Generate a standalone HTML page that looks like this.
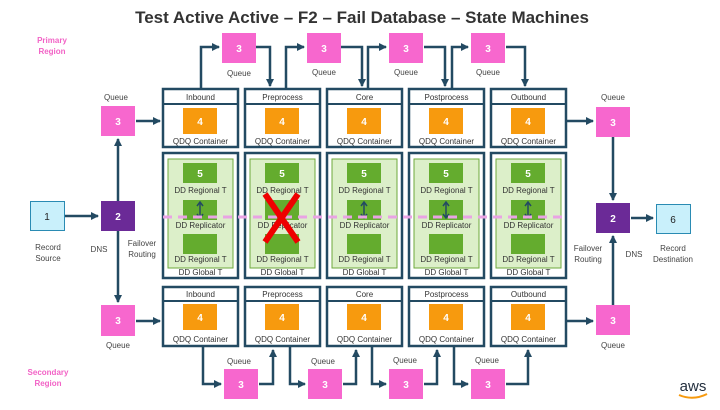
<!DOCTYPE html>
<html><head><meta charset="utf-8"><style>
body{margin:0;background:#fff}
svg text{font-family:"Liberation Sans",sans-serif}
</style></head><body>
<svg width="720" height="405" viewBox="0 0 720 405" xmlns="http://www.w3.org/2000/svg">
<defs>
<marker id="a" markerWidth="8" markerHeight="8" refX="7" refY="4" orient="auto" markerUnits="userSpaceOnUse"><path d="M0,0 L8,4 L0,8 z" fill="#234a62"/></marker>
</defs>
<rect width="720" height="405" fill="#fff"/>
<text x="362" y="23" text-anchor="middle" font-size="17" font-weight="bold" fill="#333">Test Active Active – F2 – Fail Database – State Machines</text>
<text x="52" y="43" text-anchor="middle" font-size="8" font-weight="bold" fill="#f263c6">Primary</text>
<text x="52" y="54" text-anchor="middle" font-size="8" font-weight="bold" fill="#f263c6">Region</text>
<text x="48" y="375" text-anchor="middle" font-size="8" font-weight="bold" fill="#f263c6">Secondary</text>
<text x="48" y="386" text-anchor="middle" font-size="8" font-weight="bold" fill="#f263c6">Region</text>

<g stroke="#234a62" stroke-width="2.5" fill="none">
<path d="M201,89 V47 H219" marker-end="url(#a)"/>
<path d="M256,47 H270 V86" marker-end="url(#a)"/>
<path d="M286,89 V47 H304" marker-end="url(#a)"/>
<path d="M341,47 H362 V86" marker-end="url(#a)"/>
<path d="M368,89 V47 H386" marker-end="url(#a)"/>
<path d="M424,47 H445 V86" marker-end="url(#a)"/>
<path d="M452,89 V47 H468" marker-end="url(#a)"/>
<path d="M506,47 H525 V86" marker-end="url(#a)"/>
<path d="M203,347 V384 H221" marker-end="url(#a)"/>
<path d="M259,384 H273 V350" marker-end="url(#a)"/>
<path d="M290,347 V384 H305" marker-end="url(#a)"/>
<path d="M343,384 H356 V350" marker-end="url(#a)"/>
<path d="M372,347 V384 H386" marker-end="url(#a)"/>
<path d="M424,384 H437 V350" marker-end="url(#a)"/>
<path d="M454,347 V384 H468" marker-end="url(#a)"/>
<path d="M506,384 H528 V350" marker-end="url(#a)"/>
<path d="M65,216 H98" marker-end="url(#a)"/>
<path d="M118,201 V139" marker-end="url(#a)"/>
<path d="M136,121 H160" marker-end="url(#a)"/>
<path d="M118,231 V302" marker-end="url(#a)"/>
<path d="M136,321 H160" marker-end="url(#a)"/>
<path d="M567,121 H593" marker-end="url(#a)"/>
<path d="M613,137 V200" marker-end="url(#a)"/>
<path d="M567,321 H593" marker-end="url(#a)"/>
<path d="M613,305 V236" marker-end="url(#a)"/>
<path d="M631,218 H653" marker-end="url(#a)"/>
</g>

<g font-size="8" text-anchor="middle">
<g transform="translate(163,0)">
<rect x="0" y="89" width="75" height="58" fill="#fff" stroke="#234a62" stroke-width="2.5"/><line x1="0" y1="104" x2="75" y2="104" stroke="#234a62" stroke-width="2"/>
<text x="37.5" y="100" fill="#333">Inbound</text><rect x="20" y="108" width="34" height="26" fill="#f79a0e"/><text x="37" y="125" fill="#fff" font-weight="bold" font-size="10">4</text><text x="37.5" y="144" fill="#333">QDQ Container</text>
<rect x="0" y="287" width="75" height="59" fill="#fff" stroke="#234a62" stroke-width="2.5"/><line x1="0" y1="301" x2="75" y2="301" stroke="#234a62" stroke-width="2"/>
<text x="37.5" y="297" fill="#333">Inbound</text><rect x="20" y="304" width="34" height="26" fill="#f79a0e"/><text x="37" y="321" fill="#fff" font-weight="bold" font-size="10">4</text><text x="37.5" y="342" fill="#333">QDQ Container</text>
</g>
<g transform="translate(245,0)">
<rect x="0" y="89" width="75" height="58" fill="#fff" stroke="#234a62" stroke-width="2.5"/><line x1="0" y1="104" x2="75" y2="104" stroke="#234a62" stroke-width="2"/>
<text x="37.5" y="100" fill="#333">Preprocess</text><rect x="20" y="108" width="34" height="26" fill="#f79a0e"/><text x="37" y="125" fill="#fff" font-weight="bold" font-size="10">4</text><text x="37.5" y="144" fill="#333">QDQ Container</text>
<rect x="0" y="287" width="75" height="59" fill="#fff" stroke="#234a62" stroke-width="2.5"/><line x1="0" y1="301" x2="75" y2="301" stroke="#234a62" stroke-width="2"/>
<text x="37.5" y="297" fill="#333">Preprocess</text><rect x="20" y="304" width="34" height="26" fill="#f79a0e"/><text x="37" y="321" fill="#fff" font-weight="bold" font-size="10">4</text><text x="37.5" y="342" fill="#333">QDQ Container</text>
</g>
<g transform="translate(327,0)">
<rect x="0" y="89" width="75" height="58" fill="#fff" stroke="#234a62" stroke-width="2.5"/><line x1="0" y1="104" x2="75" y2="104" stroke="#234a62" stroke-width="2"/>
<text x="37.5" y="100" fill="#333">Core</text><rect x="20" y="108" width="34" height="26" fill="#f79a0e"/><text x="37" y="125" fill="#fff" font-weight="bold" font-size="10">4</text><text x="37.5" y="144" fill="#333">QDQ Container</text>
<rect x="0" y="287" width="75" height="59" fill="#fff" stroke="#234a62" stroke-width="2.5"/><line x1="0" y1="301" x2="75" y2="301" stroke="#234a62" stroke-width="2"/>
<text x="37.5" y="297" fill="#333">Core</text><rect x="20" y="304" width="34" height="26" fill="#f79a0e"/><text x="37" y="321" fill="#fff" font-weight="bold" font-size="10">4</text><text x="37.5" y="342" fill="#333">QDQ Container</text>
</g>
<g transform="translate(409,0)">
<rect x="0" y="89" width="75" height="58" fill="#fff" stroke="#234a62" stroke-width="2.5"/><line x1="0" y1="104" x2="75" y2="104" stroke="#234a62" stroke-width="2"/>
<text x="37.5" y="100" fill="#333">Postprocess</text><rect x="20" y="108" width="34" height="26" fill="#f79a0e"/><text x="37" y="125" fill="#fff" font-weight="bold" font-size="10">4</text><text x="37.5" y="144" fill="#333">QDQ Container</text>
<rect x="0" y="287" width="75" height="59" fill="#fff" stroke="#234a62" stroke-width="2.5"/><line x1="0" y1="301" x2="75" y2="301" stroke="#234a62" stroke-width="2"/>
<text x="37.5" y="297" fill="#333">Postprocess</text><rect x="20" y="304" width="34" height="26" fill="#f79a0e"/><text x="37" y="321" fill="#fff" font-weight="bold" font-size="10">4</text><text x="37.5" y="342" fill="#333">QDQ Container</text>
</g>
<g transform="translate(491,0)">
<rect x="0" y="89" width="75" height="58" fill="#fff" stroke="#234a62" stroke-width="2.5"/><line x1="0" y1="104" x2="75" y2="104" stroke="#234a62" stroke-width="2"/>
<text x="37.5" y="100" fill="#333">Outbound</text><rect x="20" y="108" width="34" height="26" fill="#f79a0e"/><text x="37" y="125" fill="#fff" font-weight="bold" font-size="10">4</text><text x="37.5" y="144" fill="#333">QDQ Container</text>
<rect x="0" y="287" width="75" height="59" fill="#fff" stroke="#234a62" stroke-width="2.5"/><line x1="0" y1="301" x2="75" y2="301" stroke="#234a62" stroke-width="2"/>
<text x="37.5" y="297" fill="#333">Outbound</text><rect x="20" y="304" width="34" height="26" fill="#f79a0e"/><text x="37" y="321" fill="#fff" font-weight="bold" font-size="10">4</text><text x="37.5" y="342" fill="#333">QDQ Container</text>
</g>
</g>

<g font-size="8" text-anchor="middle" fill="#333">
<g transform="translate(163,153)">
<rect x="0" y="0" width="75" height="125" fill="#fff" stroke="#234a62" stroke-width="2.5"/><rect x="5" y="6" width="65" height="109" fill="#dcefc9" stroke="#6eaa3c"/>
<rect x="20" y="10" width="34" height="20" fill="#64ac2e"/><text x="37" y="24" fill="#fff" font-weight="bold" font-size="10">5</text><text x="37.5" y="40">DD Regional T</text>
<rect x="20" y="47" width="34" height="20" fill="#64ac2e"/><text x="37.5" y="75">DD Replicator</text>
<rect x="20" y="81" width="34" height="20" fill="#64ac2e"/><text x="37.5" y="109">DD Regional T</text><text x="37.5" y="122">DD Global T</text>
<path d="M37,50 V64 M34,53 L37,49 L40,53 M34,61 L37,65 L40,61" stroke="#234a62" stroke-width="1.5" fill="none"/>
</g>
<g transform="translate(245,153)">
<rect x="0" y="0" width="75" height="125" fill="#fff" stroke="#234a62" stroke-width="2.5"/><rect x="5" y="6" width="65" height="109" fill="#dcefc9" stroke="#6eaa3c"/>
<rect x="20" y="10" width="34" height="20" fill="#64ac2e"/><text x="37" y="24" fill="#fff" font-weight="bold" font-size="10">5</text><text x="37.5" y="40">DD Regional T</text>
<rect x="20" y="47" width="34" height="20" fill="#64ac2e"/><text x="37.5" y="75">DD Replicator</text>
<rect x="20" y="81" width="34" height="20" fill="#64ac2e"/><text x="37.5" y="109">DD Regional T</text><text x="37.5" y="122">DD Global T</text>
</g>
<g transform="translate(327,153)">
<rect x="0" y="0" width="75" height="125" fill="#fff" stroke="#234a62" stroke-width="2.5"/><rect x="5" y="6" width="65" height="109" fill="#dcefc9" stroke="#6eaa3c"/>
<rect x="20" y="10" width="34" height="20" fill="#64ac2e"/><text x="37" y="24" fill="#fff" font-weight="bold" font-size="10">5</text><text x="37.5" y="40">DD Regional T</text>
<rect x="20" y="47" width="34" height="20" fill="#64ac2e"/><text x="37.5" y="75">DD Replicator</text>
<rect x="20" y="81" width="34" height="20" fill="#64ac2e"/><text x="37.5" y="109">DD Regional T</text><text x="37.5" y="122">DD Global T</text>
<path d="M37,50 V64 M34,53 L37,49 L40,53 M34,61 L37,65 L40,61" stroke="#234a62" stroke-width="1.5" fill="none"/>
</g>
<g transform="translate(409,153)">
<rect x="0" y="0" width="75" height="125" fill="#fff" stroke="#234a62" stroke-width="2.5"/><rect x="5" y="6" width="65" height="109" fill="#dcefc9" stroke="#6eaa3c"/>
<rect x="20" y="10" width="34" height="20" fill="#64ac2e"/><text x="37" y="24" fill="#fff" font-weight="bold" font-size="10">5</text><text x="37.5" y="40">DD Regional T</text>
<rect x="20" y="47" width="34" height="20" fill="#64ac2e"/><text x="37.5" y="75">DD Replicator</text>
<rect x="20" y="81" width="34" height="20" fill="#64ac2e"/><text x="37.5" y="109">DD Regional T</text><text x="37.5" y="122">DD Global T</text>
<path d="M37,50 V64 M34,53 L37,49 L40,53 M34,61 L37,65 L40,61" stroke="#234a62" stroke-width="1.5" fill="none"/>
</g>
<g transform="translate(491,153)">
<rect x="0" y="0" width="75" height="125" fill="#fff" stroke="#234a62" stroke-width="2.5"/><rect x="5" y="6" width="65" height="109" fill="#dcefc9" stroke="#6eaa3c"/>
<rect x="20" y="10" width="34" height="20" fill="#64ac2e"/><text x="37" y="24" fill="#fff" font-weight="bold" font-size="10">5</text><text x="37.5" y="40">DD Regional T</text>
<rect x="20" y="47" width="34" height="20" fill="#64ac2e"/><text x="37.5" y="75">DD Replicator</text>
<rect x="20" y="81" width="34" height="20" fill="#64ac2e"/><text x="37.5" y="109">DD Regional T</text><text x="37.5" y="122">DD Global T</text>
<path d="M37,50 V64 M34,53 L37,49 L40,53 M34,61 L37,65 L40,61" stroke="#234a62" stroke-width="1.5" fill="none"/>
</g>
</g>
<line x1="163" y1="217" x2="566" y2="217" stroke="#e9a3e4" stroke-width="3" stroke-dasharray="9,6"/>
<path d="M265,194 L298,242 M298,194 L265,242" stroke="#ee0000" stroke-width="6"/>

<g font-size="10" font-weight="bold" fill="#fff" text-anchor="middle">
<rect x="222" y="33" width="34" height="30" fill="#f767ce"/><text x="239" y="52">3</text>
<rect x="307" y="33" width="34" height="30" fill="#f767ce"/><text x="324" y="52">3</text>
<rect x="389" y="33" width="34" height="30" fill="#f767ce"/><text x="406" y="52">3</text>
<rect x="471" y="33" width="34" height="30" fill="#f767ce"/><text x="488" y="52">3</text>
<rect x="224" y="369" width="34" height="30" fill="#f767ce"/><text x="241" y="388">3</text>
<rect x="308" y="369" width="34" height="30" fill="#f767ce"/><text x="325" y="388">3</text>
<rect x="389" y="369" width="34" height="30" fill="#f767ce"/><text x="406" y="388">3</text>
<rect x="471" y="369" width="34" height="30" fill="#f767ce"/><text x="488" y="388">3</text>
<rect x="101" y="106" width="34" height="30" fill="#f767ce"/><text x="118" y="125">3</text>
<rect x="101" y="305" width="34" height="31" fill="#f767ce"/><text x="118" y="324">3</text>
<rect x="596" y="107" width="34" height="30" fill="#f767ce"/><text x="613" y="126">3</text>
<rect x="596" y="305" width="34" height="30" fill="#f767ce"/><text x="613" y="324">3</text>
<rect x="101" y="201" width="34" height="30" fill="#6b2a97"/><text x="118" y="220">2</text>
<rect x="596" y="203" width="34" height="30" fill="#6b2a97"/><text x="613" y="222">2</text>
<rect x="30.5" y="201.5" width="34" height="29" fill="#c9f0fb" stroke="#2a8bb3"/><text x="47" y="220" fill="#222" font-weight="normal">1</text>
<rect x="656.5" y="204.5" width="34" height="29" fill="#c9f0fb" stroke="#2a8bb3"/><text x="673" y="223" fill="#222" font-weight="normal">6</text>
</g>
<g font-size="8" fill="#444" text-anchor="middle">
<text x="239" y="76">Queue</text><text x="324" y="75">Queue</text><text x="406" y="75">Queue</text><text x="488" y="75">Queue</text>
<text x="239" y="364">Queue</text><text x="323" y="364">Queue</text><text x="405" y="363">Queue</text><text x="487" y="363">Queue</text>
<text x="116" y="100">Queue</text><text x="118" y="348">Queue</text>
<text x="613" y="100">Queue</text><text x="613" y="348">Queue</text>
<text x="48" y="250">Record</text><text x="48" y="261">Source</text>
<text x="99" y="252">DNS</text>
<text x="142" y="246">Failover</text><text x="142" y="257">Routing</text>
<text x="588" y="251">Failover</text><text x="588" y="262">Routing</text>
<text x="634" y="257">DNS</text>
<text x="673" y="251">Record</text><text x="673" y="262">Destination</text>
</g>
<text x="693" y="391" text-anchor="middle" font-size="15" fill="#232f3e">aws</text>
<path d="M679,395 Q693,401 707,394" stroke="#f79a0e" stroke-width="2" fill="none"/>
</svg>
</body></html>
